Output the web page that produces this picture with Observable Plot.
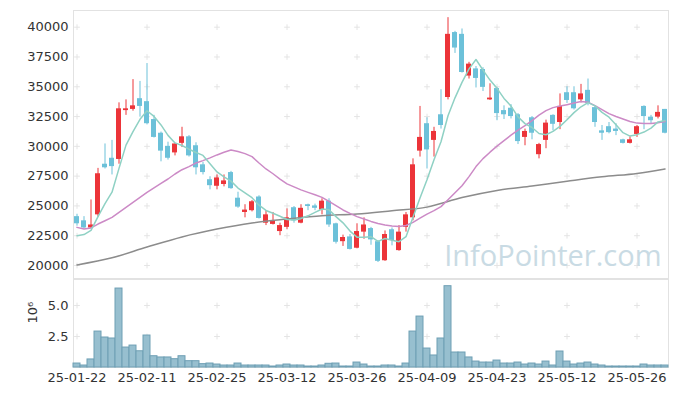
<!DOCTYPE html>
<html><head><meta charset="utf-8">
<script src="https://cdn.jsdelivr.net/npm/d3@7"></script>
<script src="https://cdn.jsdelivr.net/npm/@observablehq/plot@0.6"></script>
<style>
body{margin:0;background:#fff;}
#chart svg{display:block;}
</style>
</head><body><div id="chart"></div>
<script>
const dates = ["25-01-22","25-01-23","25-01-24","25-01-31",
"25-02-03","25-02-04","25-02-05","25-02-06","25-02-07","25-02-10","25-02-11","25-02-12","25-02-13","25-02-14",
"25-02-17","25-02-18","25-02-19","25-02-20","25-02-21","25-02-24","25-02-25","25-02-26","25-02-27","25-02-28",
"25-03-04","25-03-05","25-03-06","25-03-07","25-03-10","25-03-11","25-03-12","25-03-13","25-03-14","25-03-17",
"25-03-18","25-03-19","25-03-20","25-03-21","25-03-24","25-03-25","25-03-26","25-03-27","25-03-28","25-03-31",
"25-04-01","25-04-02","25-04-03","25-04-04","25-04-07","25-04-08","25-04-09","25-04-10","25-04-11","25-04-14",
"25-04-15","25-04-16","25-04-17","25-04-18","25-04-21","25-04-22","25-04-23","25-04-24","25-04-25","25-04-28",
"25-04-29","25-04-30","25-05-02","25-05-07","25-05-08","25-05-09","25-05-12","25-05-13","25-05-14","25-05-15",
"25-05-16","25-05-19","25-05-20","25-05-21","25-05-22","25-05-23","25-05-26","25-05-27","25-05-28","25-05-29","25-05-30"];

const open = [24100,23750,23150,24250,28500,29000,28900,33000,33100,34000,
33750,32250,31100,30000,29450,30250,30800,30050,28450,27200,
26650,26800,27800,25650,24450,24600,25750,23550,23450,22850,
23200,24850,23550,25100,25000,24650,25400,23500,22000,22400,
21450,22800,23100,22000,20400,23000,21250,23200,24000,29600,
31900,30500,32650,34100,39550,39400,35900,36500,36450,33900,
34850,33000,33200,32650,30750,32400,29300,30500,32600,32000,
34500,34500,33900,34700,33250,31300,31650,31450,30550,30250,
31000,33350,32450,32450,33100];

const high = [24300,24100,25500,28150,30200,30500,33650,33900,35600,35450,
36950,32600,31200,30350,30250,31600,30900,30300,28650,27450,
27600,27600,27900,26150,25100,25450,25850,24600,24450,23550,
24750,24950,25100,25150,25150,25600,25600,23550,22550,22600,
23500,24000,23200,22100,22900,23150,23350,24450,28950,33350,
32400,31600,34750,40800,39650,39850,37050,36700,36600,35250,
34950,33400,33500,32750,31450,32500,30250,32200,32650,34400,
35000,35000,35200,35650,33350,31750,32000,31900,30600,30800,
31750,33400,32600,33400,33100];

const low = [23300,23050,23100,24050,28100,27600,28500,32600,32950,32450,
31800,30700,28700,28850,29200,29900,29100,27600,27600,26350,
26350,26600,26400,24800,24000,24500,23900,23350,23400,22500,
23000,23550,23500,24600,24600,24250,23200,21800,21600,21300,
21400,22200,21700,20250,20350,21650,21200,22800,23750,29100,
28100,29100,31450,33900,37800,36150,35650,34900,34600,33850,
32150,32250,32300,30150,30050,30550,28950,29800,31300,31400,
33600,33050,33650,33400,31600,30500,31050,30900,30200,30200,
30750,31400,31900,32300,31050];

const close = [23500,23150,23400,27700,28200,28300,33150,33150,33400,33350,
31900,30750,29600,29000,30200,30800,29200,28200,27800,26700,
27350,27100,26450,24900,24650,25350,23950,24250,23750,23350,
24000,23750,24800,24950,24800,25400,23400,21950,22350,21350,
22850,23400,22150,20350,22600,22100,22800,24250,28450,30750,
29700,31250,31750,39400,38250,36200,36900,35700,34950,34050,
32750,32650,32500,30400,31250,31100,30150,31950,31850,33350,
33850,33150,34400,33600,32000,31100,31150,31250,30250,30550,
31650,32500,32150,32850,31100];

// volume, millions of shares
const volume = [0.32,0.16,0.65,2.9,2.42,2.34,6.37,1.61,1.77,1.31,
2.58,0.91,0.81,0.81,0.67,0.91,0.51,0.51,0.27,0.32,
0.24,0.16,0.16,0.32,0.16,0.16,0.16,0.16,0.08,0.16,
0.24,0.16,0.16,0.08,0.08,0.16,0.3,0.32,0.08,0.08,
0.4,0.24,0.08,0.08,0.16,0.16,0.08,0.32,2.9,4.11,
1.53,0.97,2.34,6.56,1.21,1.21,0.81,0.48,0.4,0.4,
0.56,0.32,0.32,0.4,0.24,0.32,0.24,0.48,0.16,1.29,
0.48,0.24,0.32,0.4,0.24,0.16,0.08,0.08,0.08,0.08,
0.08,0.24,0.16,0.16,0.16];

const ma5 = [22500,22600,22950,24100,25190,26150,28150,30100,31240,32270,
32990,32510,31800,30920,30290,30070,29760,29480,29240,28540,
27850,27430,27080,26500,26090,25690,25060,24620,24390,24130,
23860,23820,23930,24170,24460,24740,24670,24100,23580,22890,
22380,22380,22420,22020,22270,22120,22000,22420,24040,25670,
27190,28880,30380,32570,34070,35370,36500,37290,36400,35560,
34870,34020,33380,32470,31910,31580,31080,30970,31260,31680,
32230,32830,33320,33670,33400,32850,32450,31820,31150,30860,
30980,31200,31530,32050,32160];

const ma20 = [23200,23060,23150,23480,23760,24040,24460,24880,25300,25720,
26140,26510,26890,27260,27680,28040,28300,28600,28800,29030,
29280,29500,29700,29560,29390,29140,28600,28100,27700,27250,
26850,26600,26350,26140,25940,25720,25380,25020,24660,24370,
24100,23900,23700,23530,23400,23320,23280,23360,23620,23970,
24310,24600,24940,25520,26110,26700,27460,28300,28970,29510,
30020,30480,30940,31360,31740,32160,32620,33000,33250,33380,
33500,33630,33760,33710,33420,33080,32750,32500,32290,32080,
31950,31910,31910,31990,32080];

const maLongBar = [0,5,10,15,20,25,30,35,40,45,50,55,60,65,70,75,80,84];
const maLong = [20050,20650,21550,22400,23060,23570,23900,24180,24320,24600,24900,25700,26300,26680,27070,27440,27730,28100];

const priceTicks = [20000,22500,25000,27500,30000,32500,35000,37500,40000];
const volTicks = [2.5,5];
const xTickStep = 10;

const rows = dates.map((d,i)=>({date:d, open:open[i], high:high[i], low:low[i], close:close[i],
  volume:volume[i], ma5:ma5[i], ma20:ma20[i]}));
const longRows = maLongBar.map((b,i)=>({date:dates[b], v:maLong[i]}));
const xTicks = dates.filter((d,i)=>i % xTickStep === 0);

const UP = "#ec3439", DOWN = "#6cc1d9";
const colorOf = d => d.close >= d.open ? UP : DOWN;
const FONT = "DejaVu Sans";
const W = 677;

const priceCross = xTicks.flatMap(x => priceTicks.map(y => ({x, y})));
const volCross = xTicks.flatMap(x => volTicks.map(y => ({x, y})));

const price = Plot.plot({
  width: W, height: 278,
  marginLeft: 73, marginRight: 9, marginTop: 10, marginBottom: 0,
  style: {fontFamily: FONT, fontSize: "13px", color: "#333", background: "#fff", overflow: "visible"},
  x: {type: "band", domain: dates, padding: 0, axis: null},
  y: {domain: [18909, 41401], ticks: priceTicks, tickFormat: d => String(d), tickSize: 0, tickPadding: 5, label: null},
  marks: [
    Plot.frame({stroke: "#e2e2e2"}),
    Plot.dot(priceCross, {x: "x", y: "y", symbol: "plus", r: 2, stroke: "#e4e4e4", strokeWidth: 1}),
    Plot.text(["InfoPointer.com"], {frameAnchor: "bottom-right", dx: -7, dy: -22, lineAnchor: "middle",
      textAnchor: "end", fontSize: 29, fontFamily: "Open Sans", fill: "#c9dbe4"}),
    Plot.ruleX(rows, {x: "date", y1: "low", y2: "high", stroke: colorOf, strokeWidth: 1}),
    Plot.barY(rows, {x: "date", y1: "open", y2: "close", fill: colorOf, insetLeft: 1, insetRight: 1}),
    Plot.lineY(longRows, {x: "date", y: "v", stroke: "#8c8c8c", strokeWidth: 1.5, curve: "catmull-rom"}),
    Plot.lineY(rows, {x: "date", y: "ma20", stroke: "#cc8ac6", strokeWidth: 1.5, curve: "linear"}),
    Plot.lineY(rows, {x: "date", y: "ma5", stroke: "#8fd1c4", strokeWidth: 1.5, curve: "linear"})
  ]
});

const vol = Plot.plot({
  width: W, height: 118,
  marginLeft: 73, marginRight: 9, marginTop: 1, marginBottom: 29,
  style: {fontFamily: FONT, fontSize: "13px", color: "#333", background: "#fff", overflow: "visible"},
  x: {type: "band", domain: dates, padding: 0, ticks: xTicks, tickSize: 0, tickPadding: 5, label: null},
  y: {domain: [0, 7.1], ticks: volTicks, tickFormat: d3.format(".1f"), tickSize: 0, tickPadding: 5, label: null},
  marks: [
    Plot.frame({stroke: "#e2e2e2"}),
    Plot.dot(volCross, {x: "x", y: "y", symbol: "plus", r: 2, stroke: "#e4e4e4", strokeWidth: 1}),
    Plot.barY(rows, {x: "date", y: "volume", fill: "#97bfcf", stroke: "#6e9fb4", strokeWidth: 1}),
    Plot.text(["10⁶"], {frameAnchor: "left", dx: -41, rotate: -90, fontSize: 13, fill: "#333"})
  ]
});

const root = document.getElementById("chart");
root.appendChild(price);
root.appendChild(vol);
</script>
</body></html>
